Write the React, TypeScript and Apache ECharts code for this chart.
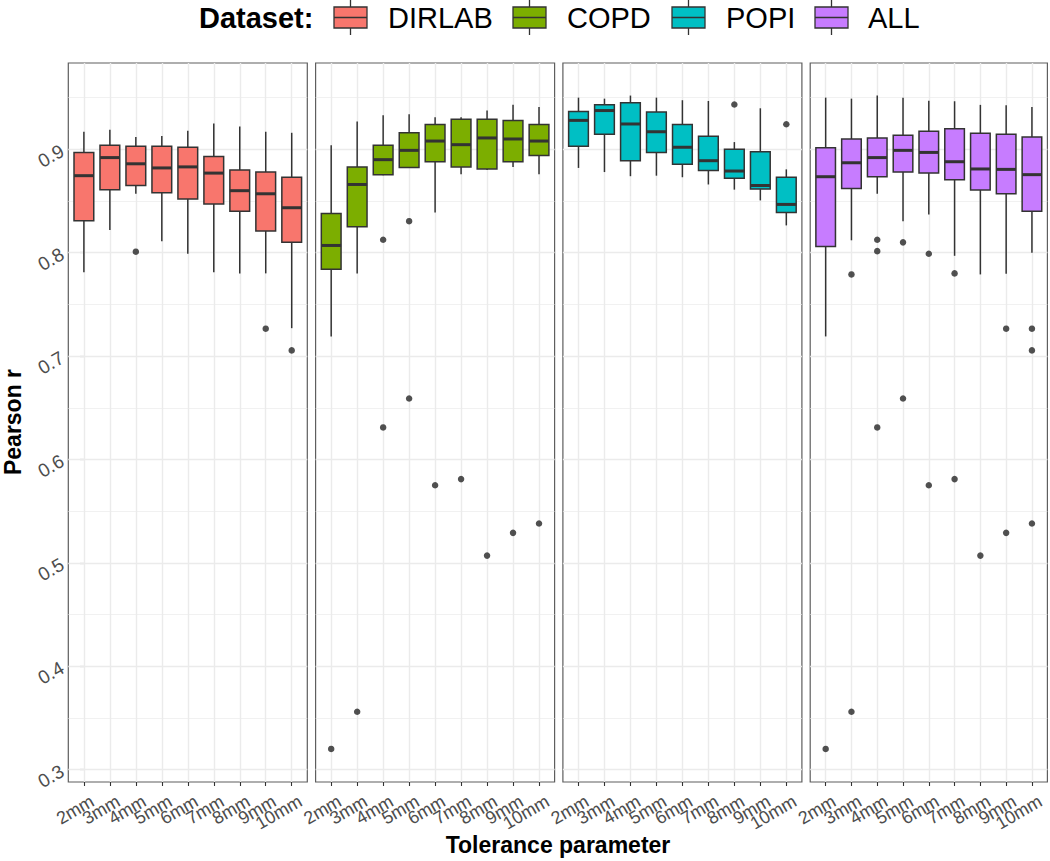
import React, { useEffect, useRef } from "react";
import * as echarts from "echarts";

// ---------- DATA ----------
const categories = ["2mm", "3mm", "4mm", "5mm", "6mm", "7mm", "8mm", "9mm", "10mm"];
const datasets = ["DIRLAB", "COPD", "POPI", "ALL"];
const colors = ["#F8766D", "#7CAE00", "#00BFC4", "#C77CFF"];
const yTicks = [0.3, 0.4, 0.5, 0.6, 0.7, 0.8, 0.9];
const yMinorTicks = [0.35, 0.45, 0.55, 0.65, 0.75, 0.85, 0.95];

// box stats per category: [lower whisker, Q1, median, Q3, upper whisker]
const dirlabBoxes = [
  [0.781, 0.831, 0.8745, 0.897, 0.917],
  [0.822, 0.861, 0.892, 0.904, 0.919],
  [0.857, 0.865, 0.886, 0.903, 0.912],
  [0.811, 0.858, 0.882, 0.903, 0.913],
  [0.799, 0.852, 0.883, 0.902, 0.918],
  [0.781, 0.847, 0.877, 0.893, 0.925],
  [0.78, 0.84, 0.86, 0.88, 0.922],
  [0.78, 0.821, 0.857, 0.878, 0.917],
  [0.727, 0.81, 0.8435, 0.873, 0.916],
];
const dirlabOutliers: [string, number][] = [
  ["4mm", 0.801],
  ["9mm", 0.7265],
  ["10mm", 0.7055],
];

const copdBoxes = [
  [0.719, 0.784, 0.807, 0.838, 0.904],
  [0.78, 0.825, 0.866, 0.883, 0.927],
  [0.875, 0.8755, 0.89, 0.904, 0.933],
  [0.882, 0.8825, 0.899, 0.916, 0.934],
  [0.839, 0.888, 0.908, 0.924, 0.931],
  [0.876, 0.883, 0.9045, 0.929, 0.931],
  [0.88, 0.881, 0.911, 0.929, 0.9375],
  [0.883, 0.888, 0.91, 0.928, 0.943],
  [0.876, 0.894, 0.908, 0.924, 0.941],
];
const copdOutliers: [string, number][] = [
  ["2mm", 0.32],
  ["3mm", 0.356],
  ["4mm", 0.8125],
  ["4mm", 0.631],
  ["5mm", 0.8305],
  ["5mm", 0.659],
  ["6mm", 0.575],
  ["7mm", 0.581],
  ["8mm", 0.507],
  ["9mm", 0.529],
  ["10mm", 0.538],
];

const popiBoxes = [
  [0.882, 0.903, 0.928, 0.9365, 0.95],
  [0.878, 0.9145, 0.9375, 0.943, 0.949],
  [0.874, 0.889, 0.9245, 0.945, 0.952],
  [0.8745, 0.897, 0.917, 0.936, 0.95],
  [0.873, 0.8855, 0.902, 0.924, 0.9475],
  [0.866, 0.8796, 0.889, 0.9126, 0.9468],
  [0.861, 0.872, 0.879, 0.9, 0.907],
  [0.8506, 0.8615, 0.865, 0.8977, 0.9397],
  [0.8264, 0.839, 0.8467, 0.873, 0.8806],
];
const popiOutliers: [string, number][] = [
  ["8mm", 0.9433],
  ["10mm", 0.9242],
];

const allBoxes = [
  [0.719, 0.806, 0.8735, 0.9016, 0.95],
  [0.812, 0.862, 0.887, 0.91, 0.949],
  [0.857, 0.8735, 0.892, 0.911, 0.952],
  [0.8305, 0.878, 0.899, 0.9136, 0.95],
  [0.837, 0.877, 0.897, 0.9174, 0.947],
  [0.797, 0.8706, 0.888, 0.92, 0.9465],
  [0.779, 0.8606, 0.881, 0.9155, 0.943],
  [0.7796, 0.857, 0.8806, 0.9145, 0.9426],
  [0.8, 0.84, 0.8755, 0.912, 0.941],
];
const allOutliers: [string, number][] = [
  ["2mm", 0.32],
  ["3mm", 0.779],
  ["3mm", 0.356],
  ["4mm", 0.8125],
  ["4mm", 0.8015],
  ["4mm", 0.631],
  ["5mm", 0.81],
  ["5mm", 0.659],
  ["6mm", 0.799],
  ["6mm", 0.575],
  ["7mm", 0.78],
  ["7mm", 0.581],
  ["8mm", 0.507],
  ["9mm", 0.7265],
  ["9mm", 0.529],
  ["10mm", 0.7265],
  ["10mm", 0.7055],
  ["10mm", 0.538],
];

const boxesByDataset = [dirlabBoxes, copdBoxes, popiBoxes, allBoxes];
const outliersByDataset = [dirlabOutliers, copdOutliers, popiOutliers, allOutliers];

// ---------- LAYOUT ----------
const PANEL_LEFT = 68.3;
const PANEL_W = 239;
const PANEL_GAP = 8.3;
const PANEL_TOP = 63;
const PANEL_H = 719;
const Y_MIN = 0.288;
const Y_MAX = 0.9835;
const X_PAD = 0.6;
const LABEL_SHIFT = 0.16; // x-label anchor nudge (in category units), as hjust in the original
const FONT = "'Liberation Sans', Arial, Helvetica, sans-serif";
const INK = "#333333";

function buildOption() {
  const catIdx = categories.map((_, i) => i);
  const xMin = -X_PAD;
  const xMax = categories.length - 1 + X_PAD;
  const grids: any[] = [];
  const xAxes: any[] = [];
  const yAxes: any[] = [];
  const series: any[] = [];

  datasets.forEach((name, p) => {
    grids.push({
      left: PANEL_LEFT + p * (PANEL_W + PANEL_GAP),
      top: PANEL_TOP,
      width: PANEL_W,
      height: PANEL_H,
      show: true,
      backgroundColor: "#ffffff",
      borderColor: "#5e5e5e",
      borderWidth: 1.2,
      containLabel: false,
    });
    xAxes.push({
      type: "value",
      gridIndex: p,
      min: xMin,
      max: xMax,
      axisLine: { show: false },
      axisTick: {
        show: true,
        customValues: catIdx,
        length: 4,
        lineStyle: { color: INK, width: 1.1 },
      },
      axisLabel: {
        show: true,
        // empty labels at the axis ends keep every category label visible
        customValues: [xMin, ...catIdx.map((i) => i + LABEL_SHIFT), xMax],
        formatter: (v: number) => {
          const i = Math.round(v - LABEL_SHIFT);
          return Math.abs(v - LABEL_SHIFT - i) < 1e-6 && categories[i] !== undefined
            ? `{t|${categories[i]}}`
            : "";
        },
        rich: { t: { fontSize: 18, color: "#4d4d4d", fontFamily: FONT } },
        rotate: 30,
        align: "right",
        verticalAlign: "top",
        hideOverlap: false,
        margin: 10,
      },
      splitLine: { show: false },
    });
    yAxes.push({
      type: "value",
      gridIndex: p,
      min: Y_MIN,
      max: Y_MAX,
      axisLine: { show: false },
      axisTick: {
        show: p === 0,
        customValues: yTicks,
        length: 4,
        lineStyle: { color: INK, width: 1.1 },
      },
      axisLabel: {
        show: p === 0,
        customValues: [Y_MIN, ...yTicks, Y_MAX],
        formatter: (v: number) =>
          yTicks.some((t) => Math.abs(t - v) < 1e-9) ? `{t|${v.toFixed(1)}}` : "",
        rich: { t: { fontSize: 19, color: "#4d4d4d", fontFamily: FONT } },
        rotate: 30,
        hideOverlap: false,
        margin: 6,
      },
      splitLine: { show: false },
    });

    const color = colors[p];
    const boxes = boxesByDataset[p];
    series.push({
      type: "custom",
      name,
      xAxisIndex: p,
      yAxisIndex: p,
      z: 3,
      data: boxes.map((b, i) => [i, ...b]),
      encode: { x: 0, y: [1, 2, 3, 4, 5] },
      renderItem: (params: any, api: any) => {
        const x = api.value(0);
        const pLow = api.coord([x, api.value(1)]);
        const pQ1 = api.coord([x, api.value(2)]);
        const pMed = api.coord([x, api.value(3)]);
        const pQ3 = api.coord([x, api.value(4)]);
        const pHigh = api.coord([x, api.value(5)]);
        const bw = api.size([1, 0])[0] * 0.76;
        const cx = pMed[0];
        return {
          type: "group",
          children: [
            {
              type: "line",
              shape: { x1: cx, y1: pHigh[1], x2: cx, y2: pQ3[1] },
              style: { stroke: INK, lineWidth: 1.5 },
            },
            {
              type: "line",
              shape: { x1: cx, y1: pQ1[1], x2: cx, y2: pLow[1] },
              style: { stroke: INK, lineWidth: 1.5 },
            },
            {
              type: "rect",
              shape: { x: cx - bw / 2, y: pQ3[1], width: bw, height: pQ1[1] - pQ3[1] },
              style: { fill: color, stroke: INK, lineWidth: 1.5 },
            },
            {
              type: "line",
              shape: { x1: cx - bw / 2, y1: pMed[1], x2: cx + bw / 2, y2: pMed[1] },
              style: { stroke: INK, lineWidth: 3 },
            },
          ],
        };
      },
    });

    const gridLines: any[] = [
      ...yMinorTicks.map((v) => ({ yAxis: v, lineStyle: { width: 0.7 } })),
      ...yTicks.map((v) => ({ yAxis: v, lineStyle: { width: 1.4 } })),
      ...catIdx.map((v) => ({ xAxis: v, lineStyle: { width: 1.4 } })),
    ];

    series.push({
      type: "scatter",
      name: name + " outliers",
      xAxisIndex: p,
      yAxisIndex: p,
      z: 4,
      symbol: "circle",
      symbolSize: 6.5,
      itemStyle: { color: "#262626" },
      data: outliersByDataset[p].map(([c, v]) => [categories.indexOf(c), v]),
      markLine: {
        silent: true,
        z: 1,
        symbol: ["none", "none"],
        label: { show: false },
        lineStyle: { color: "#ebebeb", type: "solid", width: 1.4 },
        emphasis: { disabled: true },
        data: gridLines,
      },
    });
  });

  // legend graphic
  const legendItems = [
    { key: 334, text: 388 },
    { key: 513, text: 567 },
    { key: 672, text: 726 },
    { key: 815, text: 868 },
  ];
  const graphics: any[] = [
    {
      type: "text",
      left: 199,
      top: 3,
      style: {
        text: "Dataset:",
        fontSize: 29,
        fontWeight: "bold",
        fontFamily: FONT,
        fill: "#000",
      },
    },
  ];
  legendItems.forEach((it, i) => {
    const kw = 33;
    const cx = it.key + kw / 2;
    graphics.push(
      { type: "line", shape: { x1: cx, y1: 0, x2: cx, y2: 7 }, style: { stroke: INK, lineWidth: 1.3 } },
      { type: "line", shape: { x1: cx, y1: 28, x2: cx, y2: 35 }, style: { stroke: INK, lineWidth: 1.3 } },
      {
        type: "rect",
        shape: { x: it.key, y: 7, width: kw, height: 21 },
        style: { fill: colors[i], stroke: INK, lineWidth: 1.3 },
      },
      { type: "line", shape: { x1: it.key, y1: 17.5, x2: it.key + kw, y2: 17.5 }, style: { stroke: INK, lineWidth: 1.5 } },
      {
        type: "text",
        left: it.text,
        top: 3,
        style: { text: datasets[i], fontSize: 29, fontFamily: FONT, fill: "#000" },
      }
    );
  });
  graphics.push(
    {
      type: "text",
      x: 13,
      y: 422,
      rotation: Math.PI / 2,
      style: {
        text: "Pearson r",
        fontSize: 23,
        fontWeight: "bold",
        fontFamily: FONT,
        fill: "#000",
        align: "center",
        verticalAlign: "middle",
      },
    },
    {
      type: "text",
      x: 558,
      y: 845,
      style: {
        text: "Tolerance parameter",
        fontSize: 23,
        fontWeight: "bold",
        fontFamily: FONT,
        fill: "#000",
        align: "center",
        verticalAlign: "middle",
      },
    }
  );

  return {
    animation: false,
    backgroundColor: "#ffffff",
    textStyle: { fontFamily: FONT },
    grid: grids,
    xAxis: xAxes,
    yAxis: yAxes,
    series,
    graphic: graphics,
  };
}

export default function App() {
  const ref = useRef<HTMLDivElement>(null);
  useEffect(() => {
    if (!ref.current) return;
    const chart = echarts.init(ref.current, undefined, { renderer: "svg" });
    chart.setOption(buildOption() as any);
    return () => chart.dispose();
  }, []);
  return (
    <div
      ref={ref}
      style={{ position: "absolute", left: 0, top: 0, width: 1050, height: 861, background: "#fff" }}
    />
  );
}
